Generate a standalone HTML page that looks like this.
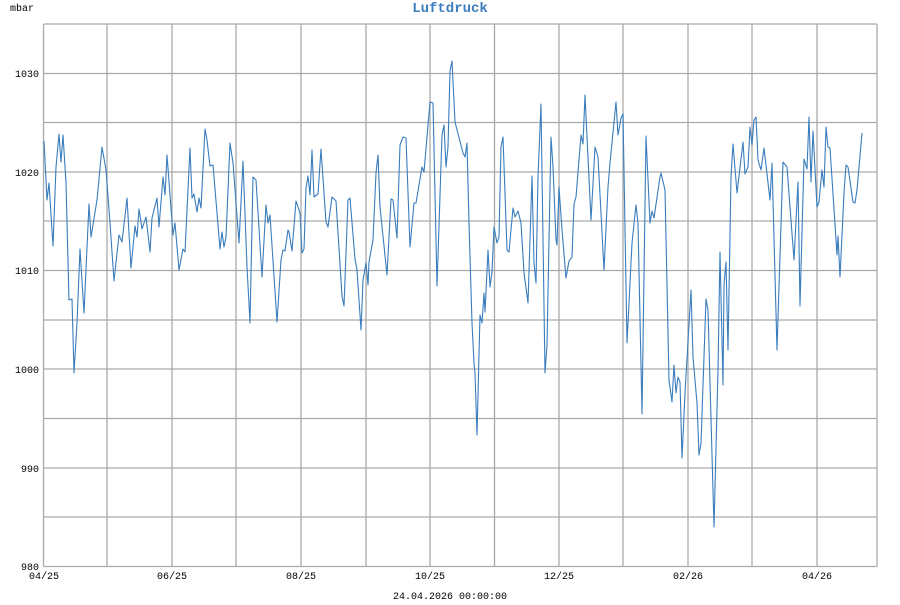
<!DOCTYPE html>
<html><head><meta charset="utf-8"><style>
html,body{margin:0;padding:0;background:#fff;}
svg text{font-family:"Liberation Mono",monospace;font-size:10px;fill:#000;}
</style></head><body>
<svg width="900" height="600" viewBox="0 0 900 600" xmlns="http://www.w3.org/2000/svg">
<rect width="900" height="600" fill="#fff"/>
<g stroke="#aaa" stroke-width="1.3" fill="none">
<line x1="43.5" y1="24" x2="877" y2="24"/>
<line x1="43.5" y1="73.5" x2="877" y2="73.5"/>
<line x1="43.5" y1="122.5" x2="877" y2="122.5"/>
<line x1="43.5" y1="172" x2="877" y2="172"/>
<line x1="43.5" y1="221" x2="877" y2="221"/>
<line x1="43.5" y1="270.5" x2="877" y2="270.5"/>
<line x1="43.5" y1="320" x2="877" y2="320"/>
<line x1="43.5" y1="369" x2="877" y2="369"/>
<line x1="43.5" y1="418.5" x2="877" y2="418.5"/>
<line x1="43.5" y1="468" x2="877" y2="468"/>
<line x1="43.5" y1="517" x2="877" y2="517"/>
<line x1="43.5" y1="566.5" x2="877" y2="566.5"/>
<line x1="43.5" y1="24" x2="43.5" y2="566.5"/>
<line x1="107" y1="24" x2="107" y2="566.5"/>
<line x1="172" y1="24" x2="172" y2="566.5"/>
<line x1="236" y1="24" x2="236" y2="566.5"/>
<line x1="301" y1="24" x2="301" y2="566.5"/>
<line x1="366" y1="24" x2="366" y2="566.5"/>
<line x1="430" y1="24" x2="430" y2="566.5"/>
<line x1="494.5" y1="24" x2="494.5" y2="566.5"/>
<line x1="559" y1="24" x2="559" y2="566.5"/>
<line x1="623" y1="24" x2="623" y2="566.5"/>
<line x1="688" y1="24" x2="688" y2="566.5"/>
<line x1="752" y1="24" x2="752" y2="566.5"/>
<line x1="817" y1="24" x2="817" y2="566.5"/>
<line x1="877" y1="24" x2="877" y2="566.5"/>
</g>
<polyline fill="none" stroke="#3a7dbd" stroke-width="1.1" stroke-linejoin="round" points="
44,141 47,200 49,183 53,246 56,167 59,134 61,162 63,135 66,183 69,300 72,299 74,373 77,323 80,249 84,313 89,204 91,237 97,200 102,147 106,170 110,223 114,281 119,235 122,242 127,198 131,268 135,226 137,237 139,209 142,229 146,217 150,252 152,218 157,198 159,227 163,177 165,195 167,155 173,235 175,223 179,270 183,249 185,252 190,148 192,198 194,194 197,212 199,198 201,208 205,129 207,140 210,166 213,165 220,249 222,232 224,247 226,237 230,143 233,163 239,243 243,161 247,267 250,323
253,177 256,180 262,277 266,205 268,223 270,215 277,322 281,260 283,250 285,251 288,230 289,232 292,251 296,201 300,213 302,253 304,249 306,188 308,176 310,195 312,150 314,197 318,194 321,149 326,222 328,227 332,197 336,201 342,296 344,306 348,200 350,198 355,259 357,270 361,330 363,280 366,263 368,285 369,262 373,240 376,173 378,155 380,207 387,275 391,199 393,200 397,238 400,145 403,137 406,138 410,247 414,203 416,203 422,167 424,172 430,102 433,103 437,286 442,135 444,125 446,167 448,147 450,71 452,61
455,122 463,153 465,157 467,143 469,223 472,323 474,363 475,373 477,435 480,315 482,323 484,293 485,312 488,250 490,287 492,272 494,227 497,243 499,237 501,147 503,137 507,250 509,252 513,208 515,217 518,211 521,223 524,273 528,303 532,176 534,263 536,283 538,177 541,104 545,373 547,345 551,137 553,167 556,240 557,245 559,187 562,230 566,278 569,261 572,257 574,204 576,197 581,135 583,144 585,95 591,220 595,147 598,157 604,270 608,187 610,163 616,102 618,135 621,118 623,114 627,343 632,243 636,205 638,223 642,414 646,136 650,223 652,211 654,218 660,177
661,173 665,190 669,380 672,402 674,365 676,393 678,377 680,382 682,458 685,393 691,290 693,357 697,403 699,455 701,443 706,299 708,310 714,527 718,370 720,252 723,385 724,285 726,262 728,350 731,177 733,144 737,193 743,142 745,174 748,167 750,127 752,145 754,120 756,117 758,160 761,170 764,148 770,200 772,163 777,350 783,162 787,167 794,260 798,182 800,306 804,159 807,169 809,117 811,182 813,131 817,207 819,202 822,170 824,187 826,127 828,147 830,148 837,255 838,236 840,277 844,193 846,165 848,167 853,202 855,203 857,190 862,133"/>
<text x="450" y="12" text-anchor="middle" style="fill:#3a7dbd;font-weight:bold;font-size:14px">Luftdruck</text>
<text x="10" y="11">mbar</text>
<g text-anchor="end">
<text x="39" y="77">1030</text>
<text x="39" y="176">1020</text>
<text x="39" y="274">1010</text>
<text x="39" y="373">1000</text>
<text x="39" y="472">990</text>
<text x="39" y="570">980</text>
</g>
<g text-anchor="middle">
<text x="44" y="579">04/25</text>
<text x="172" y="579">06/25</text>
<text x="301" y="579">08/25</text>
<text x="430" y="579">10/25</text>
<text x="559" y="579">12/25</text>
<text x="688" y="579">02/26</text>
<text x="817" y="579">04/26</text>
<text x="450" y="599">24.04.2026 00:00:00</text>
</g>
</svg>
</body></html>
